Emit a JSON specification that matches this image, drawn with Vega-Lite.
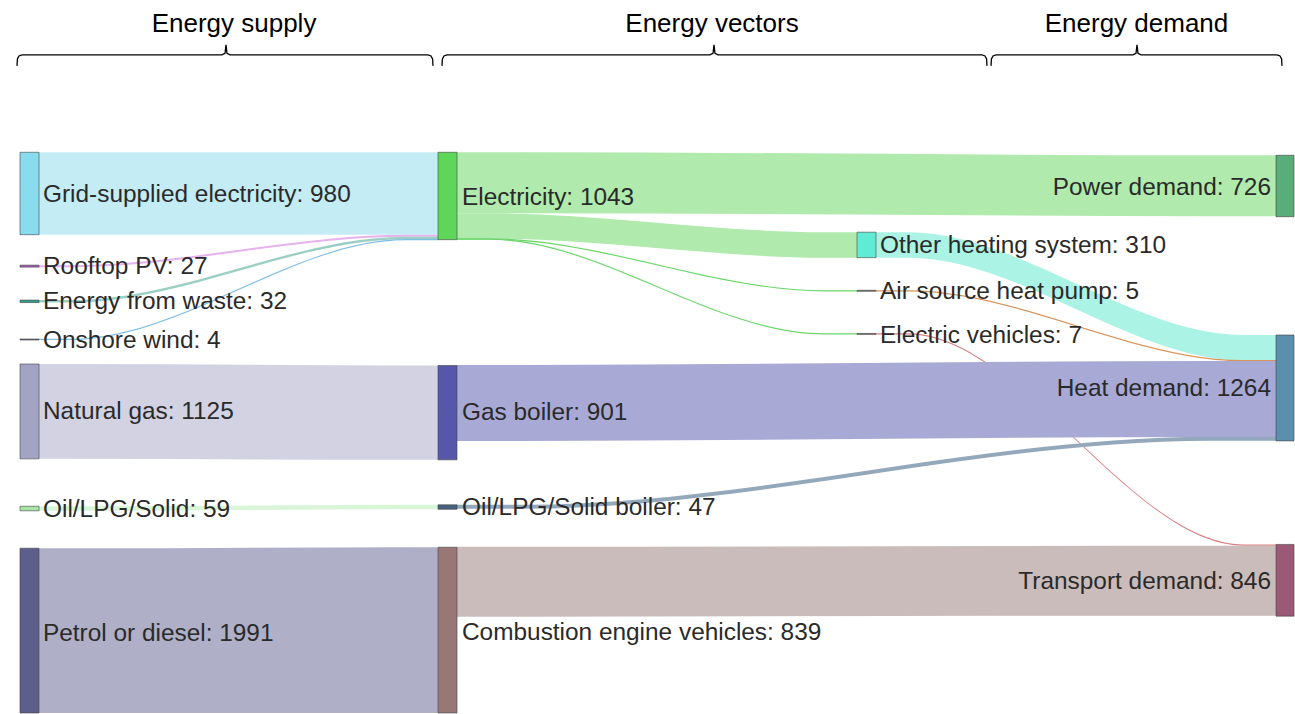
{
  "$schema": "https://vega.github.io/schema/vega-lite/v6.json",
  "width": 1295,
  "height": 714,
  "autosize": {"type": "fit", "contains": "padding"},
  "padding": 0,
  "config": {"view": {"stroke": null}, "font": "Liberation Sans"},
  "datasets": {
    "links": [
      {"link": "grid-elec", "x": 39, "top": 152.5, "bot": 235},
      {"link": "grid-elec", "x": 71, "top": 152.5, "bot": 235},
      {"link": "grid-elec", "x": 406, "top": 152.5, "bot": 235},
      {"link": "grid-elec", "x": 438, "top": 152.5, "bot": 235},
      {"link": "pv-elec", "x": 39, "top": 265.5, "bot": 267.5},
      {"link": "pv-elec", "x": 71, "top": 265.5, "bot": 267.5},
      {"link": "pv-elec", "x": 406, "top": 235, "bot": 237},
      {"link": "pv-elec", "x": 438, "top": 235, "bot": 237},
      {"link": "waste-elec", "x": 39, "top": 300.5, "bot": 303},
      {"link": "waste-elec", "x": 71, "top": 300.5, "bot": 303},
      {"link": "waste-elec", "x": 406, "top": 237, "bot": 239.5},
      {"link": "waste-elec", "x": 438, "top": 237, "bot": 239.5},
      {"link": "wind-elec", "x": 39, "top": 339.3, "bot": 340.5},
      {"link": "wind-elec", "x": 71, "top": 339.3, "bot": 340.5},
      {"link": "wind-elec", "x": 406, "top": 239.3, "bot": 240.5},
      {"link": "wind-elec", "x": 438, "top": 239.3, "bot": 240.5},
      {"link": "gas-boiler", "x": 39, "top": 364.5, "bot": 459.5},
      {"link": "gas-boiler", "x": 71, "top": 364.5, "bot": 459.5},
      {"link": "gas-boiler", "x": 406, "top": 366, "bot": 460.5},
      {"link": "gas-boiler", "x": 438, "top": 366, "bot": 460.5},
      {"link": "oil-oilboiler", "x": 39, "top": 507, "bot": 511.5},
      {"link": "oil-oilboiler", "x": 71, "top": 507, "bot": 511.5},
      {"link": "oil-oilboiler", "x": 406, "top": 505.5, "bot": 510},
      {"link": "oil-oilboiler", "x": 438, "top": 505.5, "bot": 510},
      {"link": "petrol-ice", "x": 39, "top": 549, "bot": 714},
      {"link": "petrol-ice", "x": 71, "top": 549, "bot": 714},
      {"link": "petrol-ice", "x": 406, "top": 548, "bot": 714},
      {"link": "petrol-ice", "x": 438, "top": 548, "bot": 714},
      {"link": "elec-power", "x": 457, "top": 152.5, "bot": 213.5},
      {"link": "elec-power", "x": 522, "top": 152.5, "bot": 213.5},
      {"link": "elec-power", "x": 1211, "top": 155.5, "bot": 216.5},
      {"link": "elec-power", "x": 1276, "top": 155.5, "bot": 216.5},
      {"link": "elec-other", "x": 457, "top": 213.5, "bot": 239},
      {"link": "elec-other", "x": 489, "top": 213.5, "bot": 239},
      {"link": "elec-other", "x": 825, "top": 232.5, "bot": 258},
      {"link": "elec-other", "x": 857, "top": 232.5, "bot": 258},
      {"link": "elec-ashp", "x": 457, "top": 238.6, "bot": 239.8},
      {"link": "elec-ashp", "x": 489, "top": 238.6, "bot": 239.8},
      {"link": "elec-ashp", "x": 825, "top": 290.6, "bot": 291.8},
      {"link": "elec-ashp", "x": 857, "top": 290.6, "bot": 291.8},
      {"link": "elec-ev", "x": 457, "top": 239, "bot": 240.2},
      {"link": "elec-ev", "x": 489, "top": 239, "bot": 240.2},
      {"link": "elec-ev", "x": 825, "top": 333.8, "bot": 335},
      {"link": "elec-ev", "x": 857, "top": 333.8, "bot": 335},
      {"link": "other-heat", "x": 876, "top": 232.5, "bot": 258},
      {"link": "other-heat", "x": 908, "top": 232.5, "bot": 258},
      {"link": "other-heat", "x": 1244, "top": 335.5, "bot": 361},
      {"link": "other-heat", "x": 1276, "top": 335.5, "bot": 361},
      {"link": "ashp-heat", "x": 876, "top": 290.6, "bot": 291.8},
      {"link": "ashp-heat", "x": 908, "top": 290.6, "bot": 291.8},
      {"link": "ashp-heat", "x": 1244, "top": 360.6, "bot": 361.8},
      {"link": "ashp-heat", "x": 1276, "top": 360.6, "bot": 361.8},
      {"link": "ev-transport", "x": 876, "top": 333.8, "bot": 335},
      {"link": "ev-transport", "x": 908, "top": 333.8, "bot": 335},
      {"link": "ev-transport", "x": 1244, "top": 545.2, "bot": 546.4},
      {"link": "ev-transport", "x": 1276, "top": 545.2, "bot": 546.4},
      {"link": "boiler-heat", "x": 457, "top": 365.5, "bot": 441.5},
      {"link": "boiler-heat", "x": 522, "top": 365.5, "bot": 441.5},
      {"link": "boiler-heat", "x": 1211, "top": 361.5, "bot": 437.5},
      {"link": "boiler-heat", "x": 1276, "top": 361.5, "bot": 437.5},
      {"link": "oilboiler-heat", "x": 457, "top": 505.5, "bot": 509.5},
      {"link": "oilboiler-heat", "x": 522, "top": 505.5, "bot": 509.5},
      {"link": "oilboiler-heat", "x": 1211, "top": 437.3, "bot": 441.3},
      {"link": "oilboiler-heat", "x": 1276, "top": 437.3, "bot": 441.3},
      {"link": "ice-transport", "x": 457, "top": 547.5, "bot": 617.5},
      {"link": "ice-transport", "x": 522, "top": 547.5, "bot": 617.5},
      {"link": "ice-transport", "x": 1211, "top": 546.5, "bot": 616.5},
      {"link": "ice-transport", "x": 1276, "top": 546.5, "bot": 616.5}
    ],
    "nodes": [
      {"node": "Grid-supplied electricity", "x0": 20, "x1": 39, "y0": 152.5, "y1": 235},
      {"node": "Rooftop PV", "x0": 20, "x1": 39, "y0": 265.5, "y1": 267.5},
      {"node": "Energy from waste", "x0": 20, "x1": 39, "y0": 300.5, "y1": 303},
      {"node": "Onshore wind", "x0": 20, "x1": 39, "y0": 339.5, "y1": 340.5},
      {"node": "Natural gas", "x0": 20, "x1": 39, "y0": 364.5, "y1": 459.5},
      {"node": "Oil/LPG/Solid", "x0": 20, "x1": 39, "y0": 507, "y1": 511.5},
      {"node": "Petrol or diesel", "x0": 20, "x1": 39, "y0": 549, "y1": 714},
      {"node": "Electricity", "x0": 438, "x1": 457, "y0": 152.5, "y1": 240},
      {"node": "Gas boiler", "x0": 438, "x1": 457, "y0": 366, "y1": 460.5},
      {"node": "Oil/LPG/Solid boiler", "x0": 438, "x1": 457, "y0": 505.5, "y1": 510},
      {"node": "Combustion engine vehicles", "x0": 438, "x1": 457, "y0": 548, "y1": 714},
      {"node": "Other heating system", "x0": 857, "x1": 876, "y0": 232.5, "y1": 258},
      {"node": "Air source heat pump", "x0": 857, "x1": 876, "y0": 290.7, "y1": 291.7},
      {"node": "Electric vehicles", "x0": 857, "x1": 876, "y0": 333.9, "y1": 334.9},
      {"node": "Power demand", "x0": 1276, "x1": 1294, "y0": 155.5, "y1": 217},
      {"node": "Heat demand", "x0": 1276, "x1": 1294, "y0": 335.5, "y1": 441.5},
      {"node": "Transport demand", "x0": 1276, "x1": 1294, "y0": 545.2, "y1": 617}
    ],
    "labels": [
      {"text": "Grid-supplied electricity: 980", "side": "left", "x": 43, "y": 195.5},
      {"text": "Rooftop PV: 27", "side": "left", "x": 43, "y": 267.5},
      {"text": "Energy from waste: 32", "side": "left", "x": 43, "y": 302.5},
      {"text": "Onshore wind: 4", "side": "left", "x": 43, "y": 341},
      {"text": "Natural gas: 1125", "side": "left", "x": 43, "y": 413},
      {"text": "Oil/LPG/Solid: 59", "side": "left", "x": 43, "y": 510.5},
      {"text": "Petrol or diesel: 1991", "side": "left", "x": 43, "y": 634.5},
      {"text": "Electricity: 1043", "side": "left", "x": 462, "y": 198},
      {"text": "Gas boiler: 901", "side": "left", "x": 462, "y": 414},
      {"text": "Oil/LPG/Solid boiler: 47", "side": "left", "x": 462, "y": 509},
      {"text": "Combustion engine vehicles: 839", "side": "left", "x": 462, "y": 634},
      {"text": "Other heating system: 310", "side": "left", "x": 880, "y": 246.5},
      {"text": "Air source heat pump: 5", "side": "left", "x": 880, "y": 292.5},
      {"text": "Electric vehicles: 7", "side": "left", "x": 880, "y": 336},
      {"text": "Power demand: 726", "side": "right", "x": 1271, "y": 188},
      {"text": "Heat demand: 1264", "side": "right", "x": 1271, "y": 390},
      {"text": "Transport demand: 846", "side": "right", "x": 1271, "y": 582.5}
    ],
    "headers": [
      {"text": "Energy supply", "x": 234, "y": 32},
      {"text": "Energy vectors", "x": 712, "y": 32},
      {"text": "Energy demand", "x": 1136.5, "y": 32}
    ],
    "braces": [
      {"brace": "supply", "x": 17, "y": 66},
      {"brace": "supply", "x": 17.4, "y": 59},
      {"brace": "supply", "x": 19, "y": 56},
      {"brace": "supply", "x": 22, "y": 55},
      {"brace": "supply", "x": 222, "y": 55},
      {"brace": "supply", "x": 225, "y": 53.5},
      {"brace": "supply", "x": 226, "y": 45},
      {"brace": "supply", "x": 227, "y": 53.5},
      {"brace": "supply", "x": 230, "y": 55},
      {"brace": "supply", "x": 428, "y": 55},
      {"brace": "supply", "x": 431, "y": 56},
      {"brace": "supply", "x": 432.6, "y": 59},
      {"brace": "supply", "x": 433, "y": 66},
      {"brace": "vectors", "x": 442, "y": 66},
      {"brace": "vectors", "x": 442.4, "y": 59},
      {"brace": "vectors", "x": 444, "y": 56},
      {"brace": "vectors", "x": 447, "y": 55},
      {"brace": "vectors", "x": 710, "y": 55},
      {"brace": "vectors", "x": 713, "y": 53.5},
      {"brace": "vectors", "x": 714, "y": 45},
      {"brace": "vectors", "x": 715, "y": 53.5},
      {"brace": "vectors", "x": 718, "y": 55},
      {"brace": "vectors", "x": 982, "y": 55},
      {"brace": "vectors", "x": 985, "y": 56},
      {"brace": "vectors", "x": 986.6, "y": 59},
      {"brace": "vectors", "x": 987, "y": 66},
      {"brace": "demand", "x": 991, "y": 66},
      {"brace": "demand", "x": 991.4, "y": 59},
      {"brace": "demand", "x": 993, "y": 56},
      {"brace": "demand", "x": 996, "y": 55},
      {"brace": "demand", "x": 1133, "y": 55},
      {"brace": "demand", "x": 1136, "y": 53.5},
      {"brace": "demand", "x": 1137, "y": 45},
      {"brace": "demand", "x": 1138, "y": 53.5},
      {"brace": "demand", "x": 1141, "y": 55},
      {"brace": "demand", "x": 1277, "y": 55},
      {"brace": "demand", "x": 1280, "y": 56},
      {"brace": "demand", "x": 1281.6, "y": 59},
      {"brace": "demand", "x": 1282, "y": 66}
    ]
  },
  "layer": [
    {
      "data": {"name": "links"},
      "mark": {"type": "area", "interpolate": "monotone", "orient": "vertical"},
      "encoding": {
        "x": {"field": "x", "type": "quantitative", "scale": {"domain": [0, 1295], "nice": false, "zero": false}, "axis": null},
        "y": {"field": "top", "type": "quantitative", "stack": null, "scale": {"domain": [0, 714], "nice": false, "zero": false, "reverse": true}, "axis": null},
        "y2": {"field": "bot"},
        "color": {
          "field": "link", "type": "nominal", "legend": null,
          "scale": {
            "domain": ["grid-elec", "pv-elec", "waste-elec", "wind-elec", "gas-boiler", "oil-oilboiler", "petrol-ice", "elec-power", "elec-other", "elec-ashp", "elec-ev", "other-heat", "ashp-heat", "ev-transport", "boiler-heat", "oilboiler-heat", "ice-transport"],
            "range": ["#c4ecf5", "#e6b2ee", "#9ccfc4", "#7fbfe6", "#d2d2e3", "#d8f5d8", "#afb0c7", "#b0eaac", "#b0eaac", "#6ad66a", "#6ad66a", "#aaf3e5", "#d9925a", "#d98080", "#a9a9d6", "#93a8bb", "#cbbcbc"]
          }
        }
      }
    },
    {
      "data": {"name": "nodes"},
      "mark": {"type": "rect", "stroke": "#444444", "strokeWidth": 1, "strokeOpacity": 0.6},
      "encoding": {
        "x": {"field": "x0", "type": "quantitative", "scale": {"domain": [0, 1295], "nice": false, "zero": false}, "axis": null},
        "x2": {"field": "x1"},
        "y": {"field": "y0", "type": "quantitative", "scale": {"domain": [0, 714], "nice": false, "zero": false, "reverse": true}, "axis": null},
        "y2": {"field": "y1"},
        "color": {
          "field": "node", "type": "nominal", "legend": null,
          "scale": {
            "domain": ["Grid-supplied electricity", "Rooftop PV", "Energy from waste", "Onshore wind", "Natural gas", "Oil/LPG/Solid", "Petrol or diesel", "Electricity", "Gas boiler", "Oil/LPG/Solid boiler", "Combustion engine vehicles", "Other heating system", "Air source heat pump", "Electric vehicles", "Power demand", "Heat demand", "Transport demand"],
            "range": ["#88dcee", "#a45cb8", "#2f9c8c", "#5f6f7f", "#a3a3c4", "#a8e6a8", "#5d5e8c", "#5ed65a", "#5656ab", "#47617e", "#9a7777", "#60ecd4", "#6e6e6e", "#8a6666", "#58ad79", "#5b8fae", "#9c5877"]
          }
        }
      }
    },
    {
      "data": {"name": "labels"},
      "transform": [{"filter": "datum.side == 'left'"}],
      "mark": {"type": "text", "align": "left", "baseline": "middle", "fontSize": 24.4, "color": "#2a2a2a", "font": "Liberation Sans"},
      "encoding": {
        "x": {"field": "x", "type": "quantitative", "scale": {"domain": [0, 1295], "nice": false, "zero": false}, "axis": null},
        "y": {"field": "y", "type": "quantitative", "scale": {"domain": [0, 714], "nice": false, "zero": false, "reverse": true}, "axis": null},
        "text": {"field": "text", "type": "nominal"}
      }
    },
    {
      "data": {"name": "labels"},
      "transform": [{"filter": "datum.side == 'right'"}],
      "mark": {"type": "text", "align": "right", "baseline": "middle", "fontSize": 24.4, "color": "#2a2a2a", "font": "Liberation Sans"},
      "encoding": {
        "x": {"field": "x", "type": "quantitative", "scale": {"domain": [0, 1295], "nice": false, "zero": false}, "axis": null},
        "y": {"field": "y", "type": "quantitative", "scale": {"domain": [0, 714], "nice": false, "zero": false, "reverse": true}, "axis": null},
        "text": {"field": "text", "type": "nominal"}
      }
    },
    {
      "data": {"name": "headers"},
      "mark": {"type": "text", "align": "center", "baseline": "alphabetic", "fontSize": 26, "color": "#000000", "font": "Liberation Sans"},
      "encoding": {
        "x": {"field": "x", "type": "quantitative", "scale": {"domain": [0, 1295], "nice": false, "zero": false}, "axis": null},
        "y": {"field": "y", "type": "quantitative", "scale": {"domain": [0, 714], "nice": false, "zero": false, "reverse": true}, "axis": null},
        "text": {"field": "text", "type": "nominal"}
      }
    },
    {
      "data": {"name": "braces"},
      "mark": {"type": "line", "color": "#000000", "strokeWidth": 1.3},
      "encoding": {
        "x": {"field": "x", "type": "quantitative", "scale": {"domain": [0, 1295], "nice": false, "zero": false}, "axis": null},
        "y": {"field": "y", "type": "quantitative", "scale": {"domain": [0, 714], "nice": false, "zero": false, "reverse": true}, "axis": null},
        "detail": {"field": "brace", "type": "nominal"}
      }
    }
  ],
  "resolve": {"scale": {"color": "independent"}}
}
